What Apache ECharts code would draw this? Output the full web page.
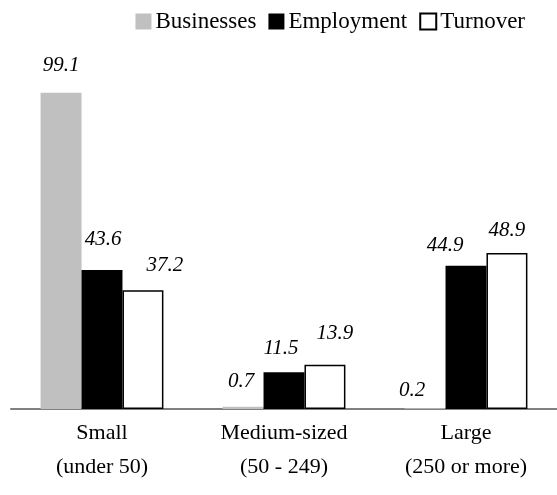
<!DOCTYPE html>
<html>
<head>
<meta charset="utf-8">
<script src="https://cdn.jsdelivr.net/npm/echarts@6/dist/echarts.min.js"></script>
<style>
  html, body { margin: 0; padding: 0; background: #fff; }
  #main { width: 557px; height: 495px; }
</style>
</head>
<body>
<div id="main"></div>
<script>
const categories = ['Small\n(under 50)', 'Medium-sized\n(50 - 249)', 'Large\n(250 or more)'];
const businesses = [99.1, 0.7, 0.2];
const employment = [43.6, 11.5, 44.9];
const turnover = [37.2, 13.9, 48.9];

// hand-placed label nudges from the original chart, [dx, dy] per bar
const labelOffsets = {
  Businesses: [[0, -5], [-2, -3], [-13, 5]],
  Employment: [[1, -8], [-3, -1], [-21, 2]],
  Turnover: [[22, -2], [10, -9], [0, 0]],
};

const font = "'Liberation Serif', 'Times New Roman', serif";

const dom = document.getElementById('main');
const myChart = echarts.init(dom);

function buildSeries(name, values, itemStyle) {
  return {
    name,
    type: 'bar',
    barGap: 0,
    barCategoryGap: '32.5%',
    itemStyle,
    data: values.map((v, i) => ({
      value: v,
      label: { offset: labelOffsets[name][i] },
    })),
    label: {
      show: true,
      position: 'top',
      distance: 12,
      fontFamily: font,
      fontStyle: 'italic',
      fontSize: 21,
      color: '#000',
      formatter: (p) => p.value.toFixed(1),
    },
  };
}

myChart.setOption({
  animation: false,
  legend: {
    top: 5,
    right: 27,
    itemWidth: 16,
    itemHeight: 16,
    itemGap: 12,
    icon: 'rect',
    textStyle: { fontFamily: font, fontSize: 23, color: '#000', padding: [0, 0, 0, -1] },
    data: ['Businesses', 'Employment', 'Turnover'],
  },
  grid: { left: 11, right: 0, top: 90, bottom: 86 },
  xAxis: {
    type: 'category',
    data: categories,
    axisLine: { lineStyle: { color: '#808080', width: 2 } },
    axisTick: { show: false },
    axisLabel: {
      margin: 7,
      fontFamily: font,
      fontSize: 22,
      lineHeight: 34,
      color: '#000',
    },
  },
  yAxis: {
    type: 'value',
    min: 0,
    max: 100,
    show: false,
  },
  series: [
    buildSeries('Businesses', businesses, { color: '#c0c0c0' }),
    buildSeries('Employment', employment, { color: '#000' }),
    buildSeries('Turnover', turnover, { color: '#fff', borderColor: '#000', borderWidth: 1.5 }),
  ],
});
</script>
</body>
</html>
